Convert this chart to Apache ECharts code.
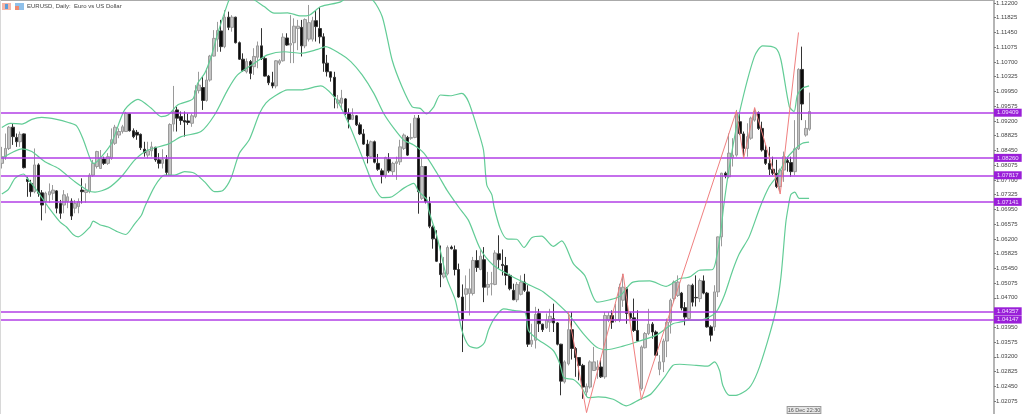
<!DOCTYPE html>
<html><head><meta charset="utf-8">
<style>html,body{margin:0;padding:0;background:#fff}#c{width:1024px;height:414px;filter:blur(0.4px)}</style>
<script src="https://cdn.jsdelivr.net/npm/echarts@6/dist/echarts.min.js"></script>
</head><body><div id="c"></div>
<script>
const titleText = 'EURUSD, Daily:  Euro vs US Dollar';
const cursorLabel = '16 Dec 22:30';
const slots = 272;
// rows: open, close, low, high
const candles1 = [
[1.0812,1.0829,1.0799,1.0854],[1.0829,1.0850,1.0821,1.0888],[1.0850,1.0904,1.0846,1.0907],[1.0904,1.0880,1.0859,1.0914],[1.0878,1.0867,1.0854,1.0888],
[1.0867,1.0886,1.0854,1.0893],[1.0887,1.0801,1.0799,1.0888],[1.0772,1.0766,1.0727,1.0778],[1.0761,1.0740,1.0727,1.0770],[1.0740,1.0808,1.0736,1.0850],
[1.0808,1.0736,1.0727,1.0812],[1.0737,1.0706,1.0667,1.0744],[1.0715,1.0736,1.0685,1.0740],[1.0732,1.0740,1.0711,1.0761],[1.0736,1.0744,1.0719,1.0757],
[1.0742,1.0698,1.0685,1.0744],[1.0710,1.0685,1.0671,1.0719],[1.0706,1.0732,1.0685,1.0744],[1.0715,1.0727,1.0698,1.0736],[1.0716,1.0678,1.0668,1.0723],
[1.0698,1.0710,1.0685,1.0719],[1.0702,1.0715,1.0685,1.0723],[1.0744,1.0740,1.0710,1.0774],[1.0738,1.0744,1.0712,1.0761],[1.0740,1.0782,1.0736,1.0787],
[1.0782,1.0812,1.0778,1.0821],[1.0804,1.0842,1.0799,1.0844],[1.0799,1.0825,1.0799,1.0846],[1.0823,1.0812,1.0808,1.0829],[1.0812,1.0829,1.0808,1.0838],
[1.0825,1.0872,1.0821,1.0901],[1.0863,1.0904,1.0859,1.0910],[1.0884,1.0893,1.0876,1.0901],[1.0893,1.0905,1.0888,1.0910],[1.0893,1.0939,1.0893,1.0943],
[1.0938,1.0895,1.0893,1.0939],[1.0895,1.0880,1.0876,1.0901],[1.0891,1.0884,1.0872,1.0897],[1.0886,1.0852,1.0846,1.0888],[1.0848,1.0839,1.0829,1.0867],
[1.0833,1.0844,1.0825,1.0867],[1.0844,1.0854,1.0829,1.0867],[1.0853,1.0821,1.0816,1.0854],[1.0821,1.0812,1.0799,1.0838],[1.0812,1.0822,1.0799,1.0848],
[1.0822,1.0789,1.0782,1.0833],[1.0782,1.0911,1.0782,1.0914],[1.0912,1.0944,1.0893,1.1009],[1.0948,1.0927,1.0893,1.0956],[1.0931,1.0921,1.0910,1.0944],
[1.0921,1.0917,1.0880,1.0944],[1.0920,1.0916,1.0910,1.0939],[1.0914,1.0933,1.0905,1.0939],[1.0931,1.0997,1.0927,1.1011],[1.0997,1.1011,1.0990,1.1045],
[1.1005,1.0972,1.0948,1.1033],[1.0972,1.1024,1.0969,1.1054],[1.1024,1.1085,1.1020,1.1088],[1.1085,1.1130,1.1084,1.1151],[1.1128,1.1150,1.1096,1.1172],
[1.1149,1.1109,1.1096,1.1177],[1.1109,1.1184,1.1105,1.1202],[1.1184,1.1158,1.1151,1.1198],[1.1158,1.1184,1.1147,1.1189],[1.1184,1.1119,1.1117,1.1185],
[1.1119,1.1077,1.1075,1.1122],[1.1077,1.1048,1.1045,1.1092],[1.1045,1.1071,1.1041,1.1079],[1.1071,1.1041,1.1026,1.1075],[1.1058,1.1084,1.1037,1.1105],
[1.1082,1.1111,1.1054,1.1122],[1.1111,1.1079,1.1075,1.1156],[1.1079,1.1034,1.1033,1.1084],[1.1034,1.1017,1.1011,1.1037],[1.1017,1.1009,1.1003,1.1045],
[1.1009,1.1073,1.1003,1.1075],[1.1067,1.1073,1.1062,1.1077],[1.1073,1.1133,1.1071,1.1143],[1.1131,1.1113,1.1111,1.1143],[1.1113,1.1117,1.1067,1.1189],
[1.1119,1.1161,1.1067,1.1181],[1.1155,1.1161,1.1100,1.1177],[1.1158,1.1111,1.1084,1.1177],[1.1111,1.1178,1.1105,1.1181],[1.1128,1.1170,1.1122,1.1215],
[1.1128,1.1175,1.1122,1.1185],[1.1175,1.1160,1.1122,1.1202],[1.1155,1.1134,1.1117,1.1209],[1.1134,1.1067,1.1045,1.1143],[1.1067,1.1045,1.1033,1.1088],
[1.1045,1.1031,1.1020,1.1045],[1.1031,1.0982,1.0952,1.1045],[1.0965,1.0973,1.0952,1.0986]];
const candles2 = [
[1.0965,1.0978,1.0948,1.0999],[1.0976,1.0939,1.0935,1.0978],[1.0939,1.0924,1.0901,1.0952],[1.0924,1.0935,1.0922,1.0952],[1.0933,1.0910,1.0907,1.0935],
[1.0910,1.0887,1.0884,1.0916],[1.0887,1.0861,1.0859,1.0899],[1.0861,1.0831,1.0812,1.0872],[1.0829,1.0867,1.0825,1.0870],[1.0867,1.0815,1.0812,1.0870],
[1.0812,1.0797,1.0793,1.0836],[1.0793,1.0782,1.0761,1.0799],[1.0782,1.0827,1.0774,1.0829],[1.0822,1.0793,1.0788,1.0838],[1.0791,1.0812,1.0782,1.0816],
[1.0812,1.0816,1.0770,1.0829],[1.0816,1.0854,1.0808,1.0872],[1.0850,1.0884,1.0846,1.0888],[1.0878,1.0833,1.0831,1.0882],[1.0876,1.0878,1.0872,1.0914],
[1.0878,1.0927,1.0876,1.0935],[1.0927,1.0740,1.0684,1.0935],[1.0723,1.0804,1.0719,1.0825],[1.0804,1.0715,1.0710,1.0805],[1.0710,1.0652,1.0647,1.0727]];
const candles3 = [
[1.0650,1.0620,1.0595,1.0654],[1.0620,1.0563,1.0561,1.0642],[1.0557,1.0529,1.0497,1.0603],[1.0523,1.0533,1.0519,1.0574],[1.0531,1.0598,1.0527,1.0603],
[1.0599,1.0595,1.0593,1.0603],[1.0592,1.0542,1.0527,1.0603],[1.0542,1.0472,1.0470,1.0557],[1.0472,1.0414,1.0332,1.0504],[1.0479,1.0493,1.0438,1.0527],
[1.0481,1.0493,1.0425,1.0544],[1.0481,1.0565,1.0476,1.0574],[1.0565,1.0547,1.0536,1.0591],[1.0542,1.0576,1.0540,1.0591],[1.0567,1.0497,1.0459,1.0599],
[1.0497,1.0504,1.0476,1.0536],[1.0505,1.0506,1.0476,1.0536],[1.0504,1.0584,1.0502,1.0591],[1.0582,1.0567,1.0544,1.0629],[1.0555,1.0552,1.0527,1.0593],
[1.0552,1.0527,1.0502,1.0574],[1.0527,1.0493,1.0489,1.0531],[1.0489,1.0465,1.0464,1.0506],[1.0465,1.0504,1.0459,1.0510],[1.0479,1.0510,1.0476,1.0527],
[1.0510,1.0489,1.0485,1.0531],[1.0485,1.0352,1.0345,1.0502],[1.0352,1.0362,1.0345,1.0404],[1.0362,1.0428,1.0341,1.0447],[1.0430,1.0404,1.0383,1.0442],
[1.0403,1.0389,1.0383,1.0404],[1.0394,1.0413,1.0391,1.0430],[1.0408,1.0423,1.0383,1.0442],[1.0417,1.0406,1.0383,1.0455],[1.0406,1.0352,1.0349,1.0408],
[1.0352,1.0258,1.0222,1.0353],[1.0256,1.0307,1.0252,1.0311],[1.0302,1.0389,1.0298,1.0434],[1.0389,1.0341,1.0313,1.0434],[1.0341,1.0318,1.0269,1.0345],
[1.0318,1.0298,1.0260,1.0319],[1.0298,1.0243,1.0213,1.0302],[1.0230,1.0245,1.0218,1.0252],[1.0243,1.0307,1.0239,1.0311],[1.0285,1.0307,1.0285,1.0345],
[1.0287,1.0294,1.0264,1.0311],[1.0294,1.0269,1.0266,1.0315],[1.0269,1.0425,1.0264,1.0434],[1.0413,1.0425,1.0408,1.0434],[1.0425,1.0408,1.0391,1.0438],
[1.0413,1.0414,1.0408,1.0455],[1.0413,1.0497,1.0408,1.0506],[1.0464,1.0497,1.0447,1.0531],[1.0493,1.0430,1.0404,1.0497],[1.0430,1.0419,1.0417,1.0434],
[1.0419,1.0387,1.0383,1.0468],[1.0387,1.0360,1.0358,1.0438],[1.0239,1.0345,1.0234,1.0349],[1.0343,1.0379,1.0341,1.0383],[1.0379,1.0403,1.0375,1.0442],
[1.0403,1.0383,1.0366,1.0408],[1.0383,1.0324,1.0321,1.0387],[1.0288,1.0307,1.0273,1.0324],[1.0307,1.0360,1.0281,1.0366],[1.0360,1.0408,1.0319,1.0417],
[1.0408,1.0464,1.0379,1.0468],[1.0468,1.0510,1.0459,1.0514],[1.0476,1.0510,1.0472,1.0527]];
const candles4 = [
[1.0482,1.0444,1.0438,1.0485],[1.0445,1.0421,1.0400,1.0459],[1.0417,1.0502,1.0414,1.0504],[1.0502,1.0459,1.0448,1.0506],[1.0471,1.0470,1.0448,1.0527],
[1.0468,1.0514,1.0459,1.0519],[1.0513,1.0482,1.0479,1.0527],[1.0482,1.0396,1.0394,1.0485],[1.0396,1.0375,1.0359,1.0400],[1.0396,1.0485,1.0386,1.0502],
[1.0485,1.0625,1.0472,1.0626],[1.0625,1.0787,1.0601,1.0788],[1.0787,1.0780,1.0774,1.0791],[1.0778,1.0838,1.0774,1.0888],[1.0827,1.0833,1.0804,1.0876],
[1.0833,1.0939,1.0829,1.0948],[1.0918,1.0888,1.0884,1.0939],[1.0887,1.0850,1.0829,1.0893],[1.0850,1.0880,1.0829,1.0914],[1.0876,1.0927,1.0872,1.0931],
[1.0922,1.0944,1.0918,1.0952],[1.0941,1.0901,1.0897,1.0944],[1.0901,1.0846,1.0842,1.0918],[1.0846,1.0812,1.0808,1.0859],[1.0812,1.0797,1.0782,1.0854],
[1.0797,1.0787,1.0782,1.0829],[1.0787,1.0753,1.0749,1.0821],[1.0753,1.0795,1.0740,1.0799],[1.0795,1.0829,1.0765,1.0842],[1.0819,1.0814,1.0791,1.0829],
[1.0814,1.0791,1.0778,1.0829],[1.0791,1.0849,1.0782,1.0922],[1.0849,1.1051,1.0846,1.1054],[1.1051,1.0963,1.0922,1.1109],[1.0884,1.0901,1.0880,1.0922],
[1.0899,1.0944,1.0895,1.0992]];
// Bollinger bands, read as [bar position, price]
const bandUpper = [[0,1.0903],[2.3,1.0914],[5.5,1.0912],[8.2,1.0924],[10.9,1.0929],[15,1.0924],[18.2,1.0916],[20.5,1.0907],[22.3,1.0872],[24.5,1.0816],[25.3,1.0812],[27.3,1.0829],[30,1.0863],[33.6,1.0948],[37.3,1.0975],[40.9,1.0952],[43.6,1.0931],[45.5,1.0935],[48.2,1.0961],[52.3,1.0976],[53.6,1.1016],[55.5,1.1041],[57.3,1.1084],[59.1,1.1143],[61.8,1.1219],[62.5,1.1232],[65.5,1.1253],[69.1,1.1228],[71.8,1.1211],[74.5,1.1194],[78.2,1.1195],[81.8,1.1187],[84.1,1.1189],[87.3,1.1211],[92.7,1.1223],[96.4,1.1245],[101.4,1.1228],[104.1,1.1185],[106.8,1.1075],[109.5,1.1007],[112.3,1.0956],[114.5,1.0952],[116.2,1.0938],[118.2,1.0956],[120,1.0986],[122.7,1.0984],[125.9,1.0990],[127.7,1.0969],[130,1.0905],[131.8,1.0846],[132.7,1.0757],[134.1,1.0732],[134.7,1.0701],[136.4,1.0646],[138.2,1.0620],[140.9,1.0619],[142.9,1.0598],[145,1.0623],[147.7,1.0627],[150.9,1.0601],[153.2,1.0615],[156.4,1.0557],[159.5,1.0527],[162.9,1.0459],[166.4,1.0465],[169.1,1.0474],[172.7,1.0510],[177.3,1.0513],[181.8,1.0499],[185.5,1.0519],[187.3,1.0521],[188.6,1.0525],[190.9,1.0540],[194.5,1.0542],[195.6,1.0574],[196.8,1.0642],[197.5,1.0701],[199.1,1.0804],[201.8,1.0939],[205.9,1.1083],[208.2,1.1111],[211.8,1.1105],[213.2,1.1075],[215.5,1.0956],[216.8,1.0944],[217.7,1.0986],[219.1,1.1003],[220.9,1.1009]];
const bandMiddle = [[0,1.0825],[2.7,1.0839],[5.5,1.0849],[8.2,1.0842],[11.8,1.0816],[15.5,1.0799],[20,1.0765],[23.6,1.0743],[25.5,1.0739],[29.1,1.0749],[32.7,1.0778],[36.4,1.0821],[40,1.0846],[45.5,1.0861],[49.1,1.0880],[54.5,1.0893],[58.2,1.0935],[61.8,1.0999],[64.5,1.1037],[69.1,1.1067],[72.7,1.1088],[77.3,1.1096],[81.8,1.1092],[86.4,1.1102],[88.6,1.1109],[92.7,1.1090],[95.5,1.1071],[98.6,1.1037],[101.8,1.0990],[104.5,1.0939],[107.3,1.0901],[110,1.0871],[112.7,1.0859],[115.5,1.0838],[119.1,1.0787],[121.8,1.0744],[125,1.0701],[127.7,1.0667],[130.9,1.0595],[134.5,1.0553],[139.1,1.0527],[143.6,1.0506],[148.2,1.0485],[154.5,1.0434],[159.1,1.0379],[162.7,1.0345],[165.5,1.0338],[170,1.0347],[174.5,1.0360],[179.1,1.0375],[183.6,1.0404],[185.5,1.0408],[188.2,1.0413],[190.9,1.0413],[193.6,1.0421],[195.5,1.0434],[197.7,1.0476],[200,1.0540],[201.8,1.0582],[204.5,1.0625],[207.5,1.0701],[210,1.0753],[212.3,1.0782],[214.5,1.0821],[216.8,1.0846],[219.1,1.0863],[220.9,1.0866]];
const bandLower = [[0,1.0734],[1.8,1.0746],[3.6,1.0774],[5.9,1.0785],[7.3,1.0770],[9.1,1.0749],[11.4,1.0719],[12.7,1.0701],[15.9,1.0663],[17.7,1.0650],[19.5,1.0631],[20.9,1.0625],[24.1,1.0650],[25,1.0665],[26.8,1.0656],[29.1,1.0650],[31.4,1.0639],[33.9,1.0631],[36.4,1.0659],[38.2,1.0680],[39.1,1.0701],[41.8,1.0753],[44.5,1.0782],[47.3,1.0782],[50,1.0791],[52.7,1.0787],[55.5,1.0765],[58.2,1.0740],[60.5,1.0743],[62.7,1.0774],[65,1.0838],[67.7,1.0872],[70.5,1.0939],[72.3,1.0966],[74.5,1.0982],[78.2,1.0999],[81.8,1.0999],[87.3,1.1009],[90.9,1.0982],[92.7,1.0956],[95.5,1.0901],[98.2,1.0838],[100,1.0795],[101.8,1.0753],[104.1,1.0725],[106.4,1.0726],[110,1.0749],[112.7,1.0761],[114.1,1.0740],[116.4,1.0719],[116.8,1.0693],[119.1,1.0625],[121.8,1.0519],[124.1,1.0464],[125.9,1.0387],[127.7,1.0349],[130,1.0342],[132,1.0355],[133.2,1.0389],[135,1.0421],[137.3,1.0442],[140,1.0438],[143.2,1.0432],[144.1,1.0387],[146.4,1.0366],[150.9,1.0336],[152.7,1.0302],[153.8,1.0267],[156.4,1.0262],[158.6,1.0243],[160.5,1.0216],[163.2,1.0218],[167.3,1.0212],[170.9,1.0195],[174.5,1.0211],[177.7,1.0226],[181.4,1.0269],[183.6,1.0298],[185.5,1.0301],[190,1.0298],[193.2,1.0296],[195,1.0307],[196.4,1.0285],[197.3,1.0247],[199.1,1.0222],[200.9,1.0222],[204.5,1.0241],[206.8,1.0281],[209.5,1.0358],[211.8,1.0438],[213.2,1.0523],[214.5,1.0659],[215.2,1.0701],[215.9,1.0732],[217,1.0739],[218.2,1.0723],[220.9,1.0723]];
const zigzag = [[155,1.0434],[160,1.0178],[170,1.0531],[175,1.0211],[201,1.0945],[203,1.0825],[206,1.0954],[213,1.0734],[218,1.1145]];
const levels = [1.09409,1.08260,1.07817,1.07141,1.04357,1.04147];
const priceTicks = [1.12200,1.11825,1.11450,1.11075,1.10700,1.10325,1.09950,1.09575,1.09200,1.08825,1.08450,1.08075,1.07700,1.07325,1.06950,1.06575,1.06200,1.05825,1.05450,1.05075,1.04700,1.04325,1.03950,1.03575,1.03200,1.02825,1.02450,1.02075];

const candles = [...candles1, ...candles2, ...candles3, ...candles4];
const cats = Array.from({length: slots}, (_, i) => String(i));
const font = '"Liberation Sans", sans-serif';
const green = '#62cc96';
const chart = echarts.init(document.getElementById('c'), null, {renderer: 'canvas'});
const band = d => ({type:'line', data:d, xAxisIndex:1, yAxisIndex:0, showSymbol:false, symbol:'none', silent:true, clip:true, smooth:0.25,
  lineStyle:{color:green, width:1.2}, z:4, animation:false});
chart.setOption({
  animation:false,
  backgroundColor:'#fff',
  title:{text:titleText, left:27, top:3, padding:0, textStyle:{fontFamily:font, fontSize:6, fontWeight:'normal', color:'#444'}},
  grid:{left:-2, right:30, top:0, bottom:0, containLabel:false},
  xAxis:[
    {type:'category', data:cats, position:'top', boundaryGap:true,
     axisLine:{show:true, onZero:false, lineStyle:{color:'#aaa', width:1}}, axisTick:{show:false}, axisLabel:{show:false}, splitLine:{show:false}},
    {type:'value', min:-0.5, max:slots-0.5, show:false, splitLine:{show:false}}
  ],
  yAxis:{type:'value', position:'right', min:1.01744, max:1.12276, scale:true,
    axisLine:{show:true, onZero:false, lineStyle:{color:'#b5b5b5', width:2}},
    axisTick:{show:true, length:2, lineStyle:{color:'#777'}, customValues:priceTicks},
    axisLabel:{show:true, margin:2, fontFamily:font, fontSize:6, color:'#444', customValues:priceTicks, formatter:v=>Number(v).toFixed(5), showMinLabel:true, showMaxLabel:true},
    splitLine:{show:false}},
  series:[
    {type:'candlestick', data:candles, xAxisIndex:0, yAxisIndex:0, barWidth:3, silent:true, z:2, clip:true,
     itemStyle:{color:'#c4c4c4', color0:'#0c0c0c', borderColor:'#9a9a9a', borderColor0:'#333', borderWidth:1}},
    band(bandUpper), band(bandMiddle), band(bandLower),
    {type:'line', data:zigzag, xAxisIndex:1, yAxisIndex:0, showSymbol:false, symbol:'none', silent:true, z:5,
     lineStyle:{color:'#f08080', width:1}},
    {type:'line', data:[], xAxisIndex:1, yAxisIndex:0, silent:true, z:6,
     markLine:{silent:true, symbol:'none', animation:false, precision:5,
       lineStyle:{color:'#b23fe6', width:1.5, type:'solid'},
       label:{show:true, position:'end', distance:0, formatter:p=>Number(p.value).toFixed(5), fontFamily:font, fontSize:6, color:'#f0e0ff', backgroundColor:'#9a1fd8', padding:[1,3,1,3]},
       data:levels.map(v=>({yAxis:v}))}}
  ],
  graphic:[
    {type:'rect', shape:{x:0,y:0,width:1,height:414}, style:{fill:'#d8d8d8'}, silent:true, z:10},
    {type:'rect', shape:{x:2,y:3,width:9,height:7}, style:{fill:'#f4b6a8'}, silent:true, z:10},
    {type:'rect', shape:{x:5,y:4,width:3,height:5}, style:{fill:'#5a9bd8'}, silent:true, z:11},
    {type:'rect', shape:{x:15,y:3,width:9,height:7}, style:{fill:'#8fc0ea'}, silent:true, z:10},
    {type:'rect', shape:{x:15,y:6,width:4,height:4}, style:{fill:'#ee8a70'}, silent:true, z:11},
    {type:'text', x:804, y:410, silent:true, z:12, style:{text:cursorLabel, x:0, y:0, align:'center', verticalAlign:'middle', fontFamily:font, fontSize:5.5, fill:'#555', backgroundColor:'#e6e6e6', borderColor:'#999', borderWidth:1, padding:[0,0,0,0]}}
  ]
});
</script></body></html>
